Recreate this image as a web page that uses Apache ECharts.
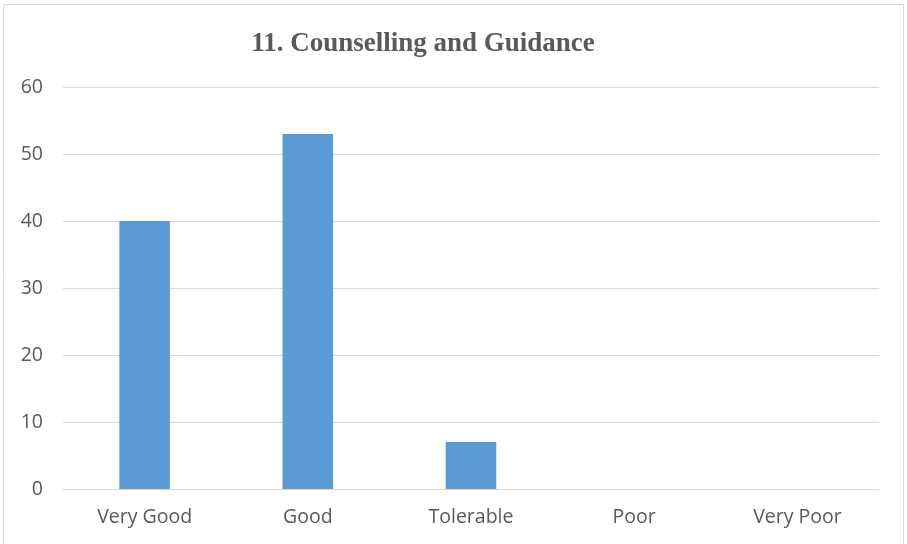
<!DOCTYPE html>
<html>
<head>
<meta charset="utf-8">
<script src="https://cdn.jsdelivr.net/npm/echarts@6/dist/echarts.min.js"></script>
<style>
html,body{margin:0;padding:0;background:#fff;}
#c{width:907px;height:544px;}
</style>
</head>
<body>
<div id="c"></div>
<script>
const titleText = '11. Counselling and Guidance';
const categories = ['Very Good', 'Good', 'Tolerable', 'Poor', 'Very Poor'];
const values = [40, 53, 7, 0, 0];
const yTicks = {min: 0, max: 60, interval: 10};

const chart = echarts.init(document.getElementById('c'), null, {renderer: 'canvas'});
chart.setOption({
  animation: false,
  backgroundColor: '#ffffff',
  graphic: [{
    type: 'rect',
    shape: {x: 3.5, y: 4.5, width: 900, height: 560},
    style: {fill: 'none', stroke: '#d9d9d9', lineWidth: 1},
    silent: true
  }],
  title: {
    text: titleText,
    left: 418,
    textAlign: 'center',
    top: 26,
    textStyle: {fontFamily: 'Liberation Serif', fontWeight: 'bold', fontSize: 27, color: '#595959'}
  },
  grid: {left: 63, right: 28, top: 87, bottom: 55, containLabel: false},
  xAxis: {
    type: 'category',
    data: categories,
    axisLine: {show: true, lineStyle: {color: '#d9d9d9', width: 1}},
    axisTick: {show: false},
    axisLabel: {fontFamily: 'Open Sans', fontSize: 19.5, color: '#595959', margin: 18}
  },
  yAxis: {
    type: 'value',
    min: yTicks.min, max: yTicks.max, interval: yTicks.interval,
    axisLine: {show: false},
    axisTick: {show: false},
    splitLine: {lineStyle: {color: '#d9d9d9', width: 1}},
    axisLabel: {fontFamily: 'Open Sans', fontSize: 19.5, color: '#595959', margin: 20}
  },
  series: [{
    type: 'bar',
    data: values,
    barWidth: '31%',
    itemStyle: {color: '#5b9bd5'}
  }]
});
</script>
</body>
</html>
